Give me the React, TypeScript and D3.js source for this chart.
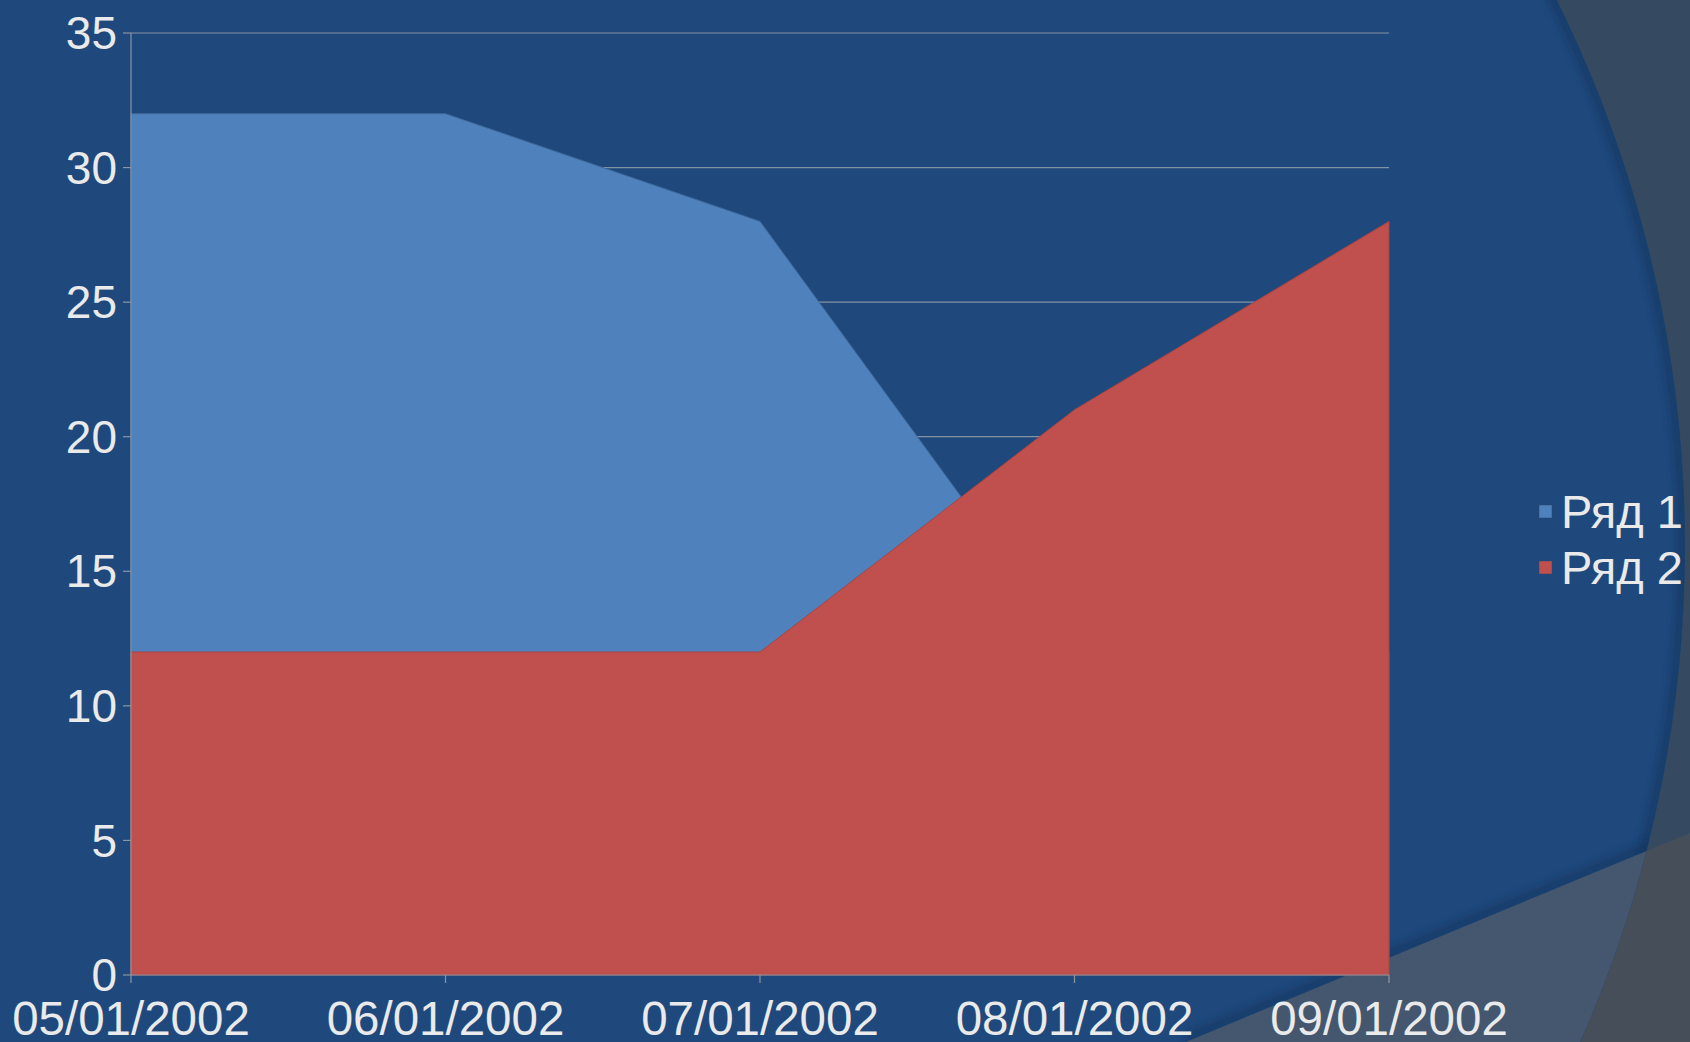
import React from "react";
import * as d3 from "d3";

// chart data
const dates = ["05/01/2002", "06/01/2002", "07/01/2002", "08/01/2002", "09/01/2002"];
const row1 = [32, 32, 28, 12, 12];
const row2 = [12, 12, 12, 21, 28];
const yTicks = [0, 5, 10, 15, 20, 25, 30, 35];
const seriesNames = ["Ряд 1", "Ряд 2"];
const seriesColors = ["#4F81BD", "#C0504D"];

const width = 1690;
const height = 1042;
const margin = { top: 33, left: 131, bottom: 67, right: 301 };
const font = "'Liberation Sans', Arial, sans-serif";
const textColor = "#EAEAEA";

const App = () => {
  const x = d3
    .scalePoint()
    .domain(dates)
    .range([margin.left, width - margin.right]);

  const y = d3
    .scaleLinear()
    .domain([0, 35])
    .range([height - margin.bottom, margin.top]);

  const area = d3
    .area<number>()
    .x((d, i) => x(dates[i]) as number)
    .y0(y(0))
    .y1((d) => y(d));

  // decorative background (theme arcs)
  const cx = 459, cy = 546, R = 1226;
  const lowerLine = "M1150,1060 L1186,1042 L1690,833 L1700,833 L1700,1060 Z";
  const lowerEdge = "M1186,1042 L1690,833";

  return (
    <svg
      width={width}
      height={height}
      style={{ position: "absolute", left: 0, top: 0 }}
      fontFamily={font}
    >
      <defs>
        <filter id="blur" x="-10%" y="-10%" width="120%" height="120%">
          <feGaussianBlur stdDeviation="4" />
        </filter>
        <clipPath id="inCircle">
          <circle cx={cx} cy={cy} r={R} />
        </clipPath>
        <clipPath id="aboveLine">
          <path d="M0,0 L1700,0 L1700,833 L1690,833 L1186,1042 L0,1042 Z" />
        </clipPath>
      </defs>

      {/* background */}
      <rect width={width} height={height} fill="#354A61" />
      <path d={lowerLine} fill="#464E5A" />
      <circle cx={cx} cy={cy} r={R} fill="#1F497D" />
      <g clipPath="url(#inCircle)">
        <circle cx={cx} cy={cy} r={R - 3} fill="none" stroke="#15355e" strokeWidth={8} filter="url(#blur)" opacity={0.8} />
        <g clipPath="url(#aboveLine)">
          <path d={lowerEdge} transform="translate(0,-4)" stroke="#15355e" strokeWidth={8} filter="url(#blur)" opacity={0.8} />
        </g>
        <path d={lowerLine} fill="#44576F" />
      </g>

      {/* grid */}
      <g>
        {yTicks.filter((t) => t > 0).map((t) => (
          <line
            key={t}
            x1={margin.left}
            x2={width - margin.right}
            y1={y(t)}
            y2={y(t)}
            stroke="#8592A3"
            strokeWidth={1.2}
          />
        ))}
      </g>

      {/* areas, Ряд 1 behind Ряд 2 */}
      <path d={area(row1) as string} fill={seriesColors[0]} stroke="#3F6A9C" strokeWidth={1} />
      <path d={area(row2) as string} fill={seriesColors[1]} stroke="#A84542" strokeWidth={1} />

      {/* axes */}
      <g stroke="#8C96A3" strokeWidth={1.2}>
        <line x1={margin.left} x2={margin.left} y1={y(35)} y2={y(0)} />
        <line x1={margin.left} x2={width - margin.right} y1={y(0)} y2={y(0)} />
        {yTicks.map((t) => (
          <line key={"yt" + t} x1={margin.left - 8} x2={margin.left} y1={y(t)} y2={y(t)} />
        ))}
        {dates.map((d) => (
          <line key={"xt" + d} x1={x(d)} x2={x(d)} y1={y(0)} y2={y(0) + 8} />
        ))}
      </g>

      <g fontSize={46} fill={textColor}>
        {yTicks.map((t) => (
          <text key={"yl" + t} x={margin.left - 14} y={y(t)} dy="0.35em" textAnchor="end">
            {t}
          </text>
        ))}
      </g>
      <g fontSize={47.5} fill={textColor}>
        {dates.map((d) => (
          <text key={"xl" + d} x={x(d)} y={1035} textAnchor="middle">
            {d}
          </text>
        ))}
      </g>

      {/* legend */}
      <g fontSize={47} fill={textColor}>
        {seriesNames.map((name, i) => (
          <g key={name} transform={`translate(1539, ${512 + i * 56})`}>
            <rect x={0} y={-7} width={13} height={13} fill={seriesColors[i]} stroke="#2a4a70" strokeWidth={0.5} />
            <text x={22} y={0} dy="0.35em">
              {name}
            </text>
          </g>
        ))}
      </g>
    </svg>
  );
};

export default App;
